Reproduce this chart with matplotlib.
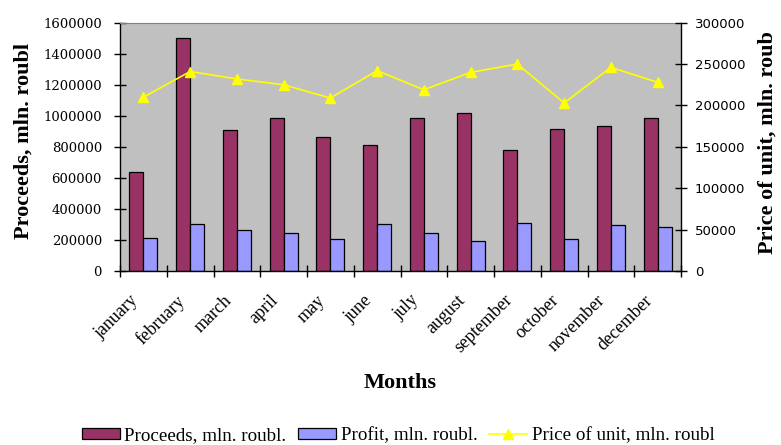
import matplotlib
matplotlib.use("Agg")
import matplotlib.pyplot as plt
import matplotlib.transforms as mtransforms
import numpy as np
from matplotlib.ticker import FixedLocator, NullFormatter
from matplotlib.lines import Line2D
from matplotlib.patches import Patch

months = ["january", "february", "march", "april", "may", "june",
          "july", "august", "september", "october", "november", "december"]
proceeds = [638000, 1499000, 909000, 986000, 861000, 812000,
            983000, 1019000, 782000, 914000, 933000, 983000]
profit = [215000, 303000, 264000, 245000, 206000, 303000,
          245000, 195000, 311000, 206000, 294000, 283000]
price = [210000, 241000, 232000, 225000, 209000, 242000,
         219000, 240000, 250000, 203000, 246000, 228000]

left_ticks = [0, 200000, 400000, 600000, 800000, 1000000, 1200000, 1400000, 1600000]
right_ticks = [0, 50000, 100000, 150000, 200000, 250000, 300000]

C_PROCEEDS = "#993366"
C_PROFIT = "#9999FF"
C_PRICE = "#FFFF00"
SERIF = "Liberation Serif"

fig = plt.figure(figsize=(7.81, 4.45), dpi=100)
ax = fig.add_axes([120 / 781, 1 - 271 / 445, 561 / 781, 248.3 / 445])
ax.set_facecolor("#C0C0C0")

x = np.arange(len(months))
w = 0.3
ax.bar(x - w / 2, proceeds, width=w, color=C_PROCEEDS, edgecolor="black", linewidth=0.9, zorder=2)
ax.bar(x + w / 2, profit, width=w, color=C_PROFIT, edgecolor="black", linewidth=0.9, zorder=2)

ax.set_xlim(-0.5, len(months) - 0.5)
ax.set_ylim(0, 1600000)
ax.set_yticks(left_ticks)
ax.set_yticklabels([str(v) for v in left_ticks], fontfamily="DejaVu Serif", fontsize=9.5)
ax.tick_params(axis="y", direction="inout", length=8, width=1, pad=9, colors="black")

# category labels at centres, tick marks at category boundaries
ax.set_xticks(x)
ax.set_xticklabels(months, rotation=45, ha="right", va="top", rotation_mode="anchor",
                   fontfamily=SERIF, fontsize=13)
ax.tick_params(axis="x", which="major", length=0, pad=12)
ax.xaxis.set_minor_locator(FixedLocator(np.arange(-0.5, len(months), 1.0)))
ax.xaxis.set_minor_formatter(NullFormatter())
ax.tick_params(axis="x", which="minor", direction="inout", length=9, width=1)

# nudge the slanted month names a little left and down
shift = mtransforms.ScaledTranslation(-14 / 100, -4 / 100, fig.dpi_scale_trans)
for lbl in ax.xaxis.get_majorticklabels():
    lbl.set_transform(lbl.get_transform() + shift)

for s in ["left", "bottom"]:
    ax.spines[s].set_color("black")
    ax.spines[s].set_linewidth(1)
ax.spines["top"].set_color("#808080")
ax.spines["top"].set_linewidth(0.8)
ax.spines["right"].set_visible(False)

ax2 = ax.twinx()
ax2.plot(x, price, color=C_PRICE, linewidth=1.2, marker="^", markersize=7,
         markerfacecolor=C_PRICE, markeredgecolor=C_PRICE, zorder=3)
ax2.set_ylim(0, 300000)
ax2.set_yticks(right_ticks)
ax2.set_yticklabels([str(v) for v in right_ticks], fontfamily="DejaVu Sans", fontsize=9.5)
ax2.tick_params(axis="y", direction="inout", length=8, width=1, pad=6, colors="black")
ax2.spines["right"].set_color("black")
ax2.spines["right"].set_linewidth(1)
for s in ["left", "top", "bottom"]:
    ax2.spines[s].set_visible(False)

fig.text(24 / 781, 1 - 141 / 445, "Proceeds, mln. roubl", rotation=90, ha="center", va="center",
         fontfamily=SERIF, fontweight="bold", fontsize=16)
fig.text(768 / 781, 1 - 143 / 445, "Price of unit, mln. roub", rotation=90, ha="center", va="center",
         fontfamily=SERIF, fontweight="bold", fontsize=16)
fig.text(400 / 781, 1 - 383 / 445, "Months", ha="center", va="center",
         fontfamily=SERIF, fontweight="bold", fontsize=16)

handles = [
    Patch(facecolor=C_PROCEEDS, edgecolor="black", linewidth=0.9),
    Patch(facecolor=C_PROFIT, edgecolor="black", linewidth=0.9),
    Line2D([0], [0], color=C_PRICE, linewidth=1.2, marker="^", markersize=7,
           markerfacecolor=C_PRICE, markeredgecolor=C_PRICE),
]
labels = ["Proceeds, mln. roubl.", "Profit, mln. roubl.", "Price of unit, mln. roubl"]
fig.legend(handles, labels, loc="center", bbox_to_anchor=(398 / 781, 1 - 436 / 445), ncol=3,
           frameon=False, prop={"family": SERIF, "size": 13.7}, handlelength=2.0,
           handleheight=0.5, handletextpad=0.25, columnspacing=0.6, borderpad=0, borderaxespad=0)

fig.savefig("out.png", dpi=100, facecolor="white")
